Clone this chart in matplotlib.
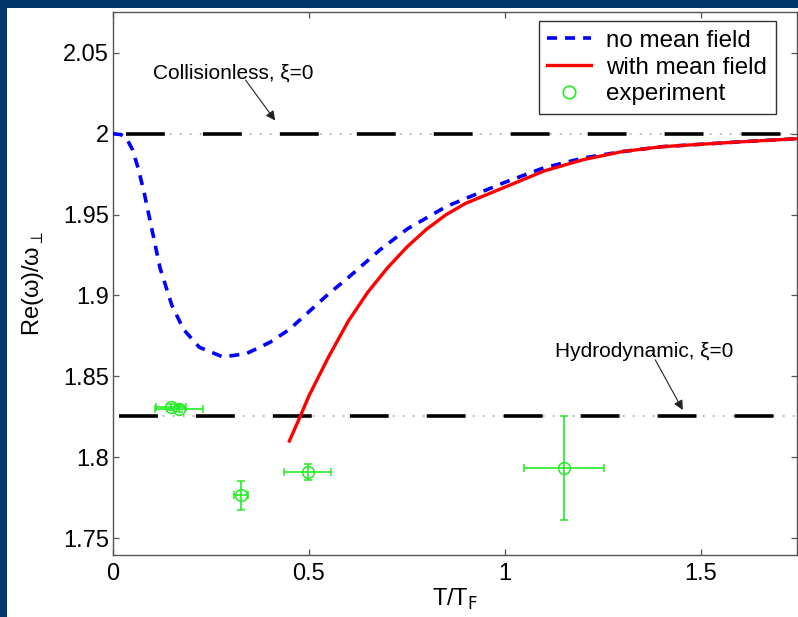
import numpy as np
import matplotlib
matplotlib.use("Agg")
import matplotlib.pyplot as plt
from matplotlib.patches import Rectangle

plt.rcParams['font.family'] = ['Liberation Sans', 'DejaVu Sans']
plt.rcParams['lines.scale_dashes'] = False

# curve without mean field
t_nomf = [0.0, 0.02, 0.035, 0.05, 0.065, 0.08, 0.10, 0.12, 0.15, 0.18, 0.22,
          0.28, 0.34, 0.40, 0.45, 0.50, 0.55, 0.60, 0.68, 0.75, 0.85, 1.0,
          1.1, 1.2, 1.3, 1.4, 1.5, 1.6, 1.75]
re_nomf = [2.0, 1.9995, 1.997, 1.990, 1.978, 1.963, 1.940, 1.917, 1.894, 1.879, 1.868,
           1.862, 1.864, 1.871, 1.879, 1.890, 1.901, 1.911, 1.928, 1.941, 1.955, 1.970,
           1.979, 1.985, 1.989, 1.992, 1.9935, 1.995, 1.997]

# curve with mean field
t_mf = [0.45, 0.48, 0.50, 0.55, 0.60, 0.65, 0.70, 0.75, 0.80, 0.85, 0.90,
        1.0, 1.1, 1.2, 1.3, 1.4, 1.5, 1.6, 1.75]
re_mf = [1.810, 1.8265, 1.838, 1.862, 1.884, 1.902, 1.917, 1.930, 1.941, 1.950, 1.957,
         1.967, 1.977, 1.984, 1.989, 1.992, 1.9935, 1.995, 1.997]

# experiment
t_exp = [0.148, 0.168, 0.327, 0.497, 1.15]
re_exp = [1.831, 1.830, 1.7765, 1.7907, 1.7932]
t_err = [0.038, 0.062, 0.018, 0.060, 0.102]
re_err = [0.002, 0.002, 0.009, 0.005, 0.032]

collisionless = 2.0
hydrodynamic = np.sqrt(10.0 / 3.0)

navy = '#00366a'
green = '#22ee22'

fig = plt.figure(figsize=(7.98, 6.17), dpi=100, facecolor=navy)
fig.patches.append(Rectangle((7 / 798, 0), 1, 1 - 8 / 617, transform=fig.transFigure,
                             facecolor='white', edgecolor='none', zorder=-10))
ax = fig.add_axes([113 / 798, 62 / 617, 684 / 798, 543 / 617])

# reference lines: grey dots underneath long black dashes
for y0, x0 in [(collisionless, 0.033), (hydrodynamic, 0.015)]:
    ax.plot([x0, 1.75], [y0, y0], color='#b0b0b0', lw=1.3,
            linestyle=(4.5, (1.3, 5.9)), zorder=1)
    ax.plot([x0, 1.75], [y0, y0], color='black', lw=2.6,
            linestyle=(0, (28, 27.4)), solid_capstyle='butt', zorder=2)

ax.plot(t_nomf, re_nomf, color='blue', lw=2.6, linestyle=(0, (7.2, 5.8)),
        label='no mean field', zorder=3)
ax.plot(t_mf, re_mf, color='red', lw=2.4, label='with mean field', zorder=3)
ax.errorbar(t_exp, re_exp, xerr=t_err, yerr=re_err, fmt='o', mfc='none', mec=green,
            ms=8.5, ecolor=green, elinewidth=1.2, capsize=2.8, capthick=1.2,
            mew=1.1, zorder=4)
ax.plot([], [], 'o', mfc='none', mec=green, ms=9, mew=1.2, label='experiment')

ax.text(0.306, 2.0377, 'Collisionless, ξ=0', fontsize=15, ha='center', va='center')
ax.annotate('', xy=(0.418, 2.0068), xytext=(0.334, 2.0346),
            arrowprops=dict(arrowstyle='-|>', color='#222222', lw=0.8, mutation_scale=14))
ax.text(1.355, 1.8654, 'Hydrodynamic, ξ=0', fontsize=15, ha='center', va='center')
ax.annotate('', xy=(1.457, 1.8277), xytext=(1.380, 1.8617),
            arrowprops=dict(arrowstyle='-|>', color='#222222', lw=0.8, mutation_scale=14))

ax.set_xlim(0, 1.745)
ax.set_ylim(1.7395, 2.0753)
ax.set_xticks([0, 0.5, 1, 1.5])
ax.set_xticklabels(['0', '0.5', '1', '1.5'])
ax.set_yticks([1.75, 1.8, 1.85, 1.9, 1.95, 2.0, 2.05])
ax.set_yticklabels(['1.75', '1.8', '1.85', '1.9', '1.95', '2', '2.05'])
ax.tick_params(direction='in', top=True, right=True, length=4.5, width=0.9,
               color='#555555', labelsize=17)
ax.tick_params(axis='x', pad=6)
ax.tick_params(axis='y', pad=3)
for sp in ax.spines.values():
    sp.set_color('#555555')
    sp.set_linewidth(1.0)

ax.set_xlabel(r'T/T$_\mathrm{F}$', fontsize=17, labelpad=1)
ax.set_ylabel(r'Re(ω)/ω$_\perp$', fontsize=17, labelpad=12)

leg = ax.legend(loc='upper right', bbox_to_anchor=(0.969, 0.983), borderaxespad=0,
                fontsize=17.4, handlelength=1.8, handletextpad=0.65, labelspacing=0.2,
                borderpad=0.35, fancybox=False, framealpha=1, edgecolor='#333333')
leg.get_frame().set_linewidth(1.0)

fig.savefig('out.png', dpi=100, facecolor=navy)
